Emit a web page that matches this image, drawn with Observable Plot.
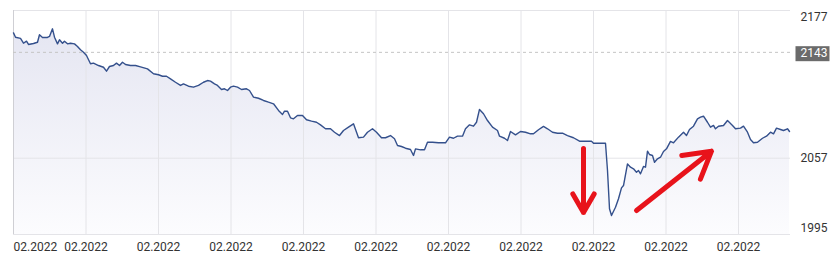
<!DOCTYPE html>
<html><head><meta charset="utf-8">
<script src="https://cdn.jsdelivr.net/npm/d3@7"></script>
<script src="https://cdn.jsdelivr.net/npm/@observablehq/plot@0.6"></script>
<style>html,body{margin:0;padding:0;background:#fff;} #chart{width:840px;height:262px;}</style>
</head><body><div id="chart"></div>
<script>
// time position along the axis (axis grid step = 72.5) and price values
const t = [0,2,7,10,13,15,20,24,26,29,34,36,39,41,44,46,49,51,54,57,61,64,67,70,73,77,80,85,90,93,96,100,103,106,109,112,117,122,127,134,140,145,149,153,157,162,167,170,175,180,185,190,194,197,201,204,208,211,214,217,220,224,228,233,236,240,245,250,255,260,265,269,271,274,277,280,284,289,293,298,303,307,312,317,321,326,330,335,340,345,350,354,359,363,368,372,377,381,384,388,392,397,400,402,407,411,414,419,425,432,436,440,444,449,452,456,460,463,466,470,474,479,484,486,491,494,497,502,507,512,517,520,525,530,534,539,544,549,554,560,566,572,578,580,592,594,596,598,602,605,608,610,614,617,620,623,625,627,630,632,634,636,639,641,644,647,650,653,657,660,665,670,673,676,680,684,687,690,694,697,700,702,705,710,714,719,722,727,730,734,737,740,744,749,753,757,760,763,767,770,774,776];
const v = [2158.8,2155.3,2154.3,2150.4,2152.1,2149.4,2150.2,2151.2,2157.3,2155.1,2155.1,2155.9,2162.1,2155.3,2149.9,2153.2,2150.4,2152.1,2149.9,2150.4,2149.9,2147.8,2145.1,2143.1,2140.4,2133.7,2134.2,2132.3,2130.9,2127.7,2131.5,2132.3,2134.2,2132.3,2135.0,2133.1,2132.3,2132.3,2131.2,2129.6,2125.6,2124.8,2123.6,2123.6,2121.5,2118.7,2116.1,2117.4,2115.5,2114.7,2116.1,2118.7,2120.1,2119.6,2117.4,2116.1,2112.8,2113.4,2112.0,2114.7,2115.5,2114.7,2112.8,2113.4,2112.0,2106.6,2105.7,2103.9,2102.5,2101.2,2095.8,2092.5,2095.2,2095.2,2089.8,2089.0,2091.7,2091.7,2088.2,2087.1,2086.2,2084.1,2080.9,2080.9,2078.1,2075.4,2079.5,2082.2,2084.9,2073.6,2074.1,2078.1,2080.9,2078.1,2073.6,2073.6,2075.4,2072.8,2067.3,2066.5,2065.1,2064.1,2059.2,2064.6,2063.8,2063.8,2070.0,2070.0,2069.5,2069.5,2074.1,2073.2,2074.9,2074.9,2080.9,2084.1,2083.0,2086.2,2096.6,2093.1,2087.6,2082.2,2079.5,2074.9,2073.2,2071.4,2078.7,2076.0,2078.7,2078.1,2076.8,2076.8,2080.1,2082.8,2080.9,2078.1,2077.3,2077.3,2075.4,2073.6,2070.8,2070.8,2070.8,2069.2,2069.2,2047.0,2015.9,2010.4,2017.2,2024.0,2032.9,2034.8,2052.4,2049.7,2048.4,2045.6,2047.0,2044.3,2050.3,2049.7,2062.7,2060.0,2059.2,2053.7,2056.5,2057.8,2062.4,2064.6,2070.6,2069.5,2074.1,2078.1,2075.4,2080.3,2083.0,2089.0,2090.3,2091.1,2086.2,2082.2,2083.6,2080.9,2083.0,2083.6,2087.6,2083.6,2080.9,2081.4,2083.0,2078.1,2072.2,2069.5,2070.0,2073.2,2074.9,2078.1,2076.8,2081.4,2080.3,2079.5,2080.9,2078.7];

const xDomain = [0, 777];
const xTickPositions = [0,72.5,145,217.5,290,362.5,435,507.5,580,652.5,725];
const xTickLabels = ["02.2022","02.2022","02.2022","02.2022","02.2022","02.2022","02.2022","02.2022","02.2022","02.2022","02.2022"];
const yDomain = [1995, 2177];
const yTicks = [2177, 2057, 1995];
const yTickLabels = ["2177", "2057", "1995"];
const lastPrice = 2143;
const lastPriceLabel = "2143";

// red hand-drawn annotation arrows
const arrowX1 = [570, 623];
const arrowY1 = [2064.9, 2014.5];
const arrowX2 = [570, 698];
const arrowY2 = [2012.9, 2062.7];

const data = t.map((d, i) => ({t: d, v: v[i]}));
const arrows = arrowX1.map((d, i) => ({x1: d, y1: arrowY1[i], x2: arrowX2[i], y2: arrowY2[i]}));

const defs = () => {
  const g = d3.create("svg:defs");
  const lg = g.append("linearGradient").attr("id", "areaGrad")
    .attr("gradientUnits", "userSpaceOnUse")
    .attr("x1", 0).attr("x2", 0).attr("y1", 10).attr("y2", 234);
  lg.append("stop").attr("offset", "0%").attr("stop-color", "#e3e4f1");
  lg.append("stop").attr("offset", "100%").attr("stop-color", "#fcfcfe");
  return g.node();
};

const yLabelDy = [7, 0, -6.5];
const yLabelMarks = yTicks.map((d, i) => Plot.text([d], {
  y: e => e, text: () => yTickLabels[i], frameAnchor: "right", textAnchor: "start",
  dx: 10, dy: yLabelDy[i], fill: "#333"
}));

const plot = Plot.plot({
  width: 840, height: 262,
  marginLeft: 13, marginRight: 50, marginTop: 10, marginBottom: 28,
  x: {domain: xDomain, axis: null},
  y: {domain: yDomain, axis: null},
  style: {fontFamily: "Roboto, 'Noto Sans', sans-serif", fontSize: "12px", background: "white", overflow: "visible"},
  marks: [
    defs,
    Plot.areaY(data, {x: "t", y1: () => yDomain[0], y2: "v", fill: "url(#areaGrad)"}),
    Plot.ruleX(xTickPositions.slice(1), {x: d => d, stroke: "#e4e4e8", strokeWidth: 1}),
    Plot.ruleY(yTicks, {y: d => d, stroke: "#e4e4e8", strokeWidth: 1}),
    Plot.ruleX([xTickPositions[0]], {x: d => d, stroke: "#cfcfd4", strokeWidth: 1}),
    Plot.ruleY([lastPrice], {y: d => d, stroke: "#c4c4c4", strokeDasharray: "3,3", strokeWidth: 1}),
    Plot.line(data, {x: "t", y: "v", stroke: "#34508c", strokeWidth: 1.4}),
    Plot.text([xTickPositions[0]], {x: d => d, text: () => xTickLabels[0], frameAnchor: "bottom", dy: 16, textAnchor: "start", fill: "#333"}),
    Plot.text(xTickPositions.slice(1), {x: d => d, text: (d, i) => xTickLabels[i + 1], frameAnchor: "bottom", dy: 16, fill: "#333"}),
    ...yLabelMarks,
    Plot.text([lastPrice], {y: d => d, text: () => lastPriceLabel, frameAnchor: "right", textAnchor: "start", dx: 10, dy: 1, fill: "white"}),
    Plot.arrow(arrows, {x1: "x1", y1: "y1", x2: "x2", y2: "y2", stroke: "#e8131b", strokeWidth: 5, headLength: 9, strokeLinecap: "round"})
  ]
});

document.getElementById("chart").appendChild(plot);

// grey badge behind the current-price label
d3.select(plot).selectAll("text").filter(function() { return this.textContent === lastPriceLabel; })
  .each(function() {
    const b = this.getBBox();
    const rect = document.createElementNS("http://www.w3.org/2000/svg", "rect");
    rect.setAttribute("x", b.x - 5);
    rect.setAttribute("y", b.y);
    rect.setAttribute("width", b.width + 7);
    rect.setAttribute("height", b.height + 1);
    rect.setAttribute("fill", "#6b6b6b");
    const tr = this.getAttribute("transform");
    if (tr) rect.setAttribute("transform", tr);
    this.parentNode.insertBefore(rect, this);
  });
</script>
</body></html>
